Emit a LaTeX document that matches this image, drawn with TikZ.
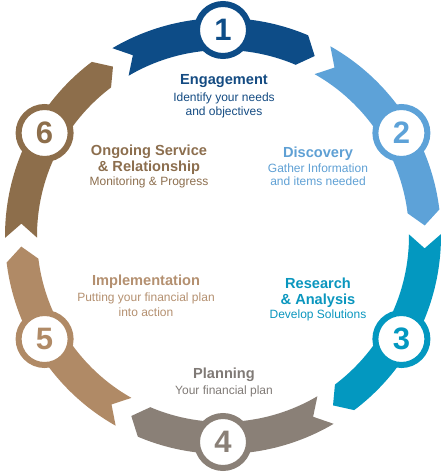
\documentclass[tikz,border=0pt]{standalone}
\usepackage{fontspec}
\setmainfont{Liberation Sans}
\definecolor{cA}{RGB}{13,76,135}
\definecolor{cB}{RGB}{93,162,216}
\definecolor{cC}{RGB}{3,152,192}
\definecolor{cD}{RGB}{138,128,119}
\definecolor{cE}{RGB}{176,138,102}
\definecolor{cF}{RGB}{141,110,75}
\definecolor{tA}{RGB}{20,75,130}
\definecolor{tB}{RGB}{95,160,212}
\definecolor{tC}{RGB}{10,150,190}
\definecolor{tD}{RGB}{128,122,118}
\definecolor{tE}{RGB}{180,144,112}
\definecolor{tF}{RGB}{140,110,78}
\tikzset{
  numcirc/.style={circle, draw=#1, line width=6pt, fill=white, minimum size=52pt, inner sep=0pt,
    text=#1, font=\fontsize{31}{31}\selectfont\bfseries},
  ttl/.style={anchor=base, inner sep=0pt, text=#1, font=\fontsize{14.6}{16}\selectfont\bfseries},
  sub/.style={anchor=base, inner sep=0pt, text=#1, font=\fontsize{12}{14}\selectfont},
}
\begin{document}
\begin{tikzpicture}[x=1pt,y=1pt]
\useasboundingbox (-223,-236) rectangle (223,236);
\foreach \t/\c in {90/cA, 30/cB, -30/cC, -90/cD, -150/cE, 150/cF} {
  \pgfmathsetmacro{\ta}{\t+30.5}
  \pgfmathsetmacro{\tb}{\t-23}
  \pgfmathsetmacro{\tc}{\t-27}
  \pgfmathsetmacro{\td}{\t+26.5}
  \fill[\c] (\ta:218) arc[start angle=\ta, end angle=\tb, radius=218]
     -- (\tc:202) -- (\tb:186) arc[start angle=\tb, end angle=\ta, radius=186]
     -- (\td:202) -- cycle;
}
\node[numcirc=cA] (n1) at (90:206) {1};
\node[numcirc=cB] (n2) at (30:206) {2};
\node[numcirc=cC] (n3) at (-30:206) {3};
\node[numcirc=cD] (n4) at (-90:206) {4};
\node[numcirc=cE] (n5) at (-150:206) {5};
\node[numcirc=cF] (n6) at (150:206) {6};
% Engagement
\node[ttl=tA] (e1) at (1,152) {Engagement};
\node[sub=tA] (e2) at (1,135) {Identify your needs};
\node[sub=tA] (e3) at (1,121) {and objectives};
% Discovery
\node[ttl=tB] (d1) at (95,79) {Discovery};
\node[sub=tB] (d2) at (95,63.7) {Gather Information};
\node[sub=tB] (d3) at (95,50.3) {and items needed};
% Ongoing
\node[ttl=tF] (o1) at (-74,81) {Ongoing Service};
\node[ttl=tF] (o2) at (-74,65) {\& Relationship};
\node[sub=tF] (o3) at (-74,50.3) {Monitoring \& Progress};
% Implementation
\node[ttl=tE] (i1) at (-77,-49) {Implementation};
\node[sub=tE] (i2) at (-77,-65.7) {Putting your financial plan};
\node[sub=tE] (i3) at (-77,-80) {into action};
% Research
\node[ttl=tC] (r1) at (95,-52.3) {Research};
\node[ttl=tC] (r2) at (95,-68.3) {\& Analysis};
\node[sub=tC] (r3) at (95,-82.3) {Develop Solutions};
% Planning
\node[ttl=tD] (p1) at (1,-142.3) {Planning};
\node[sub=tD] (p2) at (1,-158.3) {Your financial plan};
\end{tikzpicture}
\end{document}
